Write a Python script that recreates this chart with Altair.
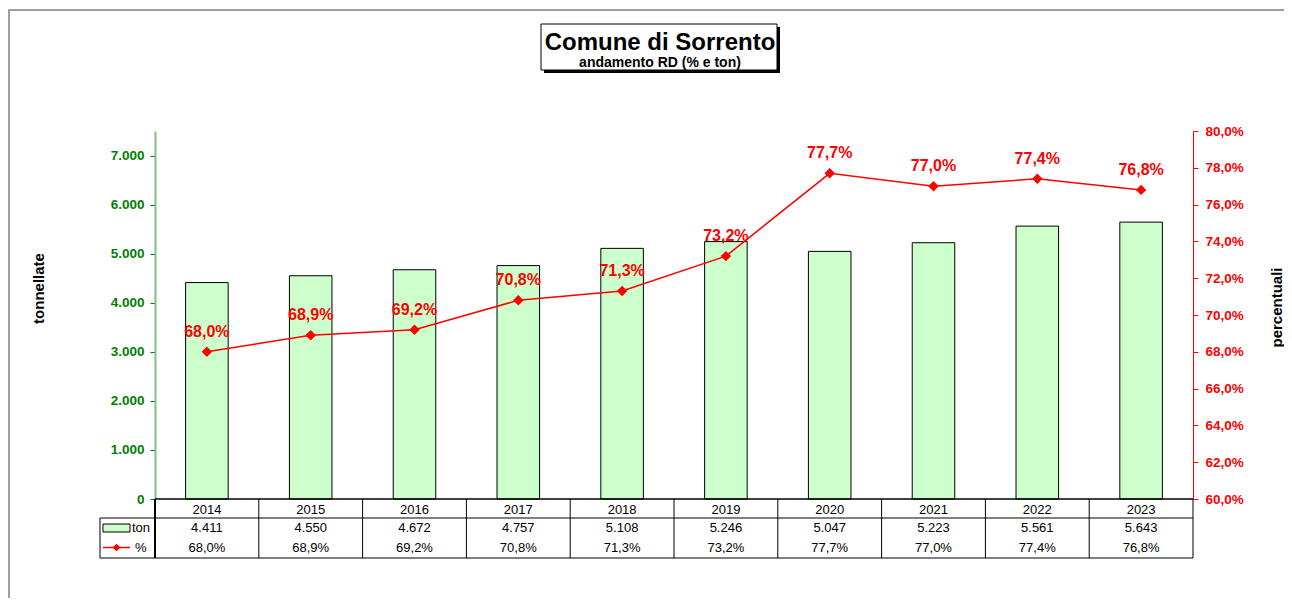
import altair as alt
import pandas as pd

# ---- data ----
years = ["2014", "2015", "2016", "2017", "2018", "2019", "2020", "2021", "2022", "2023"]
tons = [4411, 4550, 4672, 4757, 5108, 5246, 5047, 5223, 5561, 5643]
pcts = [68.0, 68.9, 69.2, 70.8, 71.3, 73.2, 77.7, 77.0, 77.4, 76.8]
ton_ticks = [0, 1000, 2000, 3000, 4000, 5000, 6000, 7000]
pct_ticks = [60, 62, 64, 66, 68, 70, 72, 74, 76, 78, 80]
title_text = "Comune di Sorrento"
subtitle_text = "andamento RD (% e ton)"
ton_axis_title = "tonnellate"
pct_axis_title = "percentuali"
legend_ton = "ton"
legend_pct = "%"

df = pd.DataFrame({"year": years, "ton": tons, "pct": pcts})
one = pd.DataFrame({"k": [0]})

W, H = 1038, 368
FONT = "Liberation Sans"
GREEN = "#008000"
RED = "#FF0000"

xscale = alt.Scale(paddingInner=0, paddingOuter=0)
x_enc = alt.X("year:N", scale=xscale, axis=None, sort=years)
base = alt.Chart(df)
deco = alt.Chart(one)

bars = base.mark_bar(width={"band": 0.41}, fill="#CCFFCC", stroke="#000000", strokeWidth=1).encode(
    x=x_enc,
    y=alt.Y(
        "ton:Q",
        scale=alt.Scale(domain=[0, 7500], nice=False),
        axis=alt.Axis(
            values=ton_ticks, title=ton_axis_title, grid=False, labelOverlap=False,
            labelExpr="replace(format(datum.value, ','), ',', '.')",
            labelColor=GREEN, labelFont=FONT, labelFontSize=13.5, labelFontWeight="bold",
            labelPadding=6, tickColor=GREEN, tickSize=5, domainColor="#80C080", domainWidth=2,
            titleFont=FONT, titleFontSize=15, titleFontWeight="bold", titleColor="#000000",
            titleAngle=270, titleX=-117, titleY=157, titleAlign="center", titleBaseline="middle",
        ),
    ),
)

# ---- data table below the plot ----
tfont = dict(font=FONT, fontSize=13, color="#000000", baseline="middle", align="center")
year_txt = base.mark_text(**tfont).encode(x=x_enc, y=alt.value(H + 11), text="year:N")
ton_txt = base.transform_calculate(
    lbl="replace(format(datum.ton, ','), ',', '.')"
).mark_text(**tfont).encode(x=x_enc, y=alt.value(H + 29), text="lbl:N")
pct_txt = base.transform_calculate(
    lbl="replace(format(datum.pct, '.1f'), '.', ',') + '%'"
).mark_text(**tfont).encode(x=x_enc, y=alt.value(H + 48.5), text="lbl:N")

vlines = base.mark_rule(color="#000000", strokeWidth=1).encode(
    x=alt.X("year:N", scale=xscale, axis=None, sort=years, bandPosition=0),
    y=alt.value(H), y2=alt.value(H + 59),
)
rule_style = dict(color="#000000", strokeWidth=1)
h_top = deco.mark_rule(color="#000000", strokeWidth=1.5).encode(x=alt.value(0), x2=alt.value(W), y=alt.value(H))
h_mid = deco.mark_rule(**rule_style).encode(x=alt.value(-55), x2=alt.value(W), y=alt.value(H + 19))
h_bot = deco.mark_rule(**rule_style).encode(x=alt.value(-55), x2=alt.value(W), y=alt.value(H + 59))
v_left = deco.mark_rule(**rule_style).encode(x=alt.value(-55), y=alt.value(H + 19), y2=alt.value(H + 59))
v_axis = deco.mark_rule(color="#000000", strokeWidth=2).encode(x=alt.value(0), y=alt.value(H), y2=alt.value(H + 59))
v_right = deco.mark_rule(**rule_style).encode(x=alt.value(W), y=alt.value(H), y2=alt.value(H + 59))

leg_rect = deco.mark_rect(fill="#CCFFCC", stroke="#000000", strokeWidth=1).encode(
    x=alt.value(-52), x2=alt.value(-25), y=alt.value(H + 25), y2=alt.value(H + 33))
leg_line = deco.mark_rule(color=RED, strokeWidth=1.5).encode(
    x=alt.value(-52), x2=alt.value(-25), y=alt.value(H + 48.5))
leg_pt = deco.mark_point(shape="diamond", size=60, filled=True, color=RED, opacity=1).encode(
    x=alt.value(-38.5), y=alt.value(H + 48.5))
leg_t1 = deco.mark_text(font=FONT, fontSize=13, align="left", baseline="middle", color="#000000").encode(
    x=alt.value(-23), y=alt.value(H + 29), text=alt.value(legend_ton))
leg_t2 = deco.mark_text(font=FONT, fontSize=13, align="left", baseline="middle", color="#000000").encode(
    x=alt.value(-20), y=alt.value(H + 48.5), text=alt.value(legend_pct))

# ---- title box ----
shadow = deco.mark_rect(fill="#000000").encode(
    x=alt.value(389), x2=alt.value(625), y=alt.value(-104), y2=alt.value(-58))
box = deco.mark_rect(fill="#FFFFFF", stroke="#000000", strokeWidth=1).encode(
    x=alt.value(386), x2=alt.value(622), y=alt.value(-107), y2=alt.value(-61))
t1 = deco.mark_text(font=FONT, fontSize=24, fontWeight="bold", align="center", baseline="middle", color="#000000").encode(
    x=alt.value(505), y=alt.value(-88), text=alt.value(title_text))
t2 = deco.mark_text(font=FONT, fontSize=14, fontWeight="bold", align="center", baseline="middle", color="#000000").encode(
    x=alt.value(505), y=alt.value(-68), text=alt.value(subtitle_text))

border = deco.mark_rect(filled=False, stroke="#808080", strokeWidth=1.5).encode(
    x=alt.value(-146), x2=alt.value(W + 300), y=alt.value(-121), y2=alt.value(H + 300))

left = alt.layer(border, shadow, box, t1, t2, bars, vlines, h_top, h_mid, h_bot, v_left, v_axis, v_right,
                 year_txt, ton_txt, pct_txt, leg_rect, leg_line, leg_pt, leg_t1, leg_t2)

pct_axis = alt.Axis(
    orient="right", values=pct_ticks, title=pct_axis_title, grid=False, labelOverlap=False,
    labelExpr="replace(format(datum.value, '.1f'), '.', ',') + '%'",
    labelColor=RED, labelFont=FONT, labelFontSize=13.5, labelFontWeight="bold",
    labelPadding=7, tickColor=RED, tickSize=5, domainColor=RED, domainWidth=1,
    titleFont=FONT, titleFontSize=15, titleFontWeight="bold", titleColor="#000000",
    titleAngle=270, titleX=83, titleY=176, titleAlign="center", titleBaseline="middle",
)
pct_scale = alt.Scale(domain=[60, 80], nice=False, zero=False)
pct_y = alt.Y("pct:Q", scale=pct_scale, axis=pct_axis)

line = base.mark_line(color=RED, strokeWidth=1.5).encode(x=x_enc, y=pct_y)
pts = base.mark_point(shape="diamond", size=110, filled=True, color=RED, opacity=1).encode(x=x_enc, y=pct_y)
labels = base.transform_calculate(
    lbl="replace(format(datum.pct, '.1f'), '.', ',') + '%'"
).mark_text(font=FONT, fontSize=16, fontWeight="bold", color=RED, dy=-20, baseline="middle").encode(
    x=x_enc, y=pct_y, text="lbl:N")
right = alt.layer(line, pts, labels)

chart = alt.layer(left, right).resolve_scale(y="independent").properties(
    width=W, height=H,
    autosize=alt.AutoSizeParams(type="none"),
    padding={"left": 147, "top": 123, "right": 91, "bottom": 99},
    background="#FFFFFF",
).configure_view(strokeWidth=0).configure_axis(labelOverlap=False)

chart.save("out.html", embed_options={"renderer": "svg", "actions": False})
